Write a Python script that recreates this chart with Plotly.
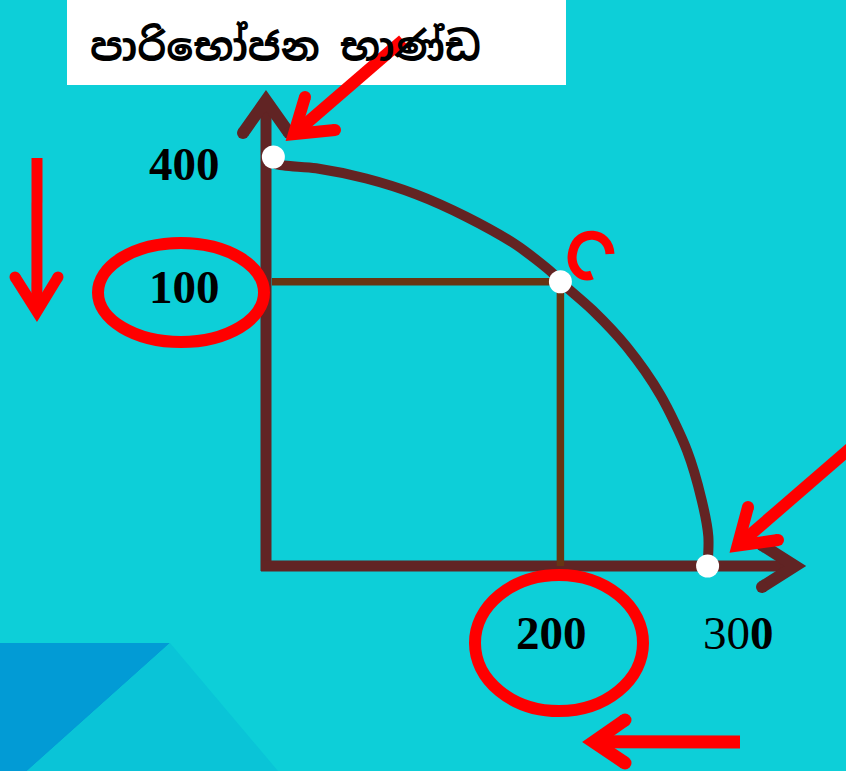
import math

import plotly.graph_objects as go

W, H = 846, 771

# curve (x in goods, y in slide axis units)
curve_x = [4, 7, 34, 68, 102, 136, 170, 195, 200, 222, 245, 268, 286, 296, 300.5, 300]
curve_y = [397, 393, 389, 379, 363.5, 341.6, 314, 286, 278, 250, 214.5, 167, 113, 64.5, 29, 1]

# marked points on the curve
point_x = [5, 200, 300]
point_y = [400, 278, 0]

# tick labels written on the slide
y_tick_vals = [400, 278]
y_tick_text = ['<b>400</b>', '<b>100</b>']
x_tick_vals = [200, 300]
x_tick_text = ['<b>200</b>', '30<b>0</b>']

title_text = 'පාරිභෝජන භාණ්ඩ'

BG = '#0DCFD8'
AXIS = '#612424'
GUIDE = '#673513'
RED = '#FF0000'

# pixel origin of the chart axes and scale (px per unit)
OX, OY = 266, 566
KX, KY = 1.472, 1.0225


def pp(x, y):
    return '{:.5f},{:.5f}'.format(x / W, 1 - y / H)


def line_path(pts, width, color, layer):
    d = 'M ' + ' L '.join(pp(x, y) for x, y in pts)
    return dict(type='path', xref='paper', yref='paper', path=d,
                line=dict(color=color, width=width), layer=layer)


def dot(x, y, width, color, layer):
    r = width / 2
    return dict(type='circle', xref='paper', yref='paper',
                x0=(x - r) / W, x1=(x + r) / W,
                y0=1 - (y + r) / H, y1=1 - (y - r) / H,
                fillcolor=color, line=dict(width=0), layer=layer)


def arrow(tail, tip, a, b, shaft_w, head_w, color, layer='above'):
    # pull the vertex back so the mitred corner lands on the tip
    def unit(p, q):
        dx, dy = q[0] - p[0], q[1] - p[1]
        n = math.hypot(dx, dy)
        return dx / n, dy / n
    u1, u2 = unit(tip, a), unit(tip, b)
    bx, by = u1[0] + u2[0], u1[1] + u2[1]
    n = math.hypot(bx, by)
    bx, by = bx / n, by / n
    half = math.acos(max(-1.0, min(1.0, u1[0] * bx + u1[1] * by)))
    ext = (head_w / 2) / math.sin(half)
    v = (tip[0] + bx * ext, tip[1] + by * ext)
    return [line_path([tail, v], shaft_w, color, layer),
            line_path([a, v, b], head_w, color, layer),
            dot(a[0], a[1], head_w, color, layer),
            dot(b[0], b[1], head_w, color, layer)]


def filled(pts, color, layer='below'):
    d = 'M ' + ' L '.join(pp(x, y) for x, y in pts) + ' Z'
    return dict(type='path', xref='paper', yref='paper', path=d,
                fillcolor=color, line=dict(width=0), layer=layer)


def ring(x0, y0, x1, y1, width, color):
    return dict(type='circle', xref='paper', yref='paper',
                x0=x0 / W, x1=x1 / W, y0=1 - y1 / H, y1=1 - y0 / H,
                line=dict(color=color, width=width), layer='above')


shapes = []
# background decoration
shapes.append(filled([(0, 643), (170, 643), (27, 771), (0, 771)], '#029BD5'))
shapes.append(filled([(170, 643), (278, 771), (27, 771)], '#0AC4D7'))
shapes.append(filled([(67, 0), (566, 0), (566, 85), (67, 85)], 'white'))

# axes with arrow heads
shapes += arrow((OX, 571), (266, 87), (243, 133), (289, 133), 11, 12, AXIS, 'below')
shapes += arrow((261, OY), (810, OY), (762, 545), (762, 587), 11, 12, AXIS, 'below')

# red hand-drawn marks
shapes += arrow((403, 40), (283, 143), (305, 97), (335, 130), 12, 12, RED)
shapes += arrow((862, 438), (727, 555), (748, 507), (778, 540), 12, 12, RED)
shapes += arrow((37, 158), (37, 325), (15, 277), (58, 277), 11, 11, RED)
shapes += arrow((740, 742), (578, 742), (625, 720), (625, 763), 13, 13, RED)
shapes.append(ring(98, 243, 264, 342, 12, RED))
shapes.append(ring(475, 575, 643, 711, 12, RED))
shapes.append(dict(type='path', xref='paper', yref='paper', layer='above',
                   path='M {} C {} {} {} C {} {} {}'.format(
                       pp(610, 254), pp(609, 231), pp(578, 228), pp(573, 251),
                       pp(569, 266), pp(580, 280), pp(592, 275)),
                   line=dict(color=RED, width=9)))

fig = go.Figure()

# guide lines to point C
fig.add_trace(go.Scatter(x=[4, point_x[1], point_x[1]],
                         y=[point_y[1], point_y[1], 0],
                         mode='lines', line=dict(color=GUIDE, width=7.5),
                         hoverinfo='skip'))
fig.add_trace(go.Scatter(x=curve_x, y=curve_y, mode='lines',
                         line=dict(color='#632423', width=10, shape='spline', smoothing=0.8),
                         hoverinfo='skip'))
fig.add_trace(go.Scatter(x=point_x, y=point_y, mode='markers',
                         marker=dict(color='white', size=23, line=dict(width=0)),
                         hoverinfo='skip'))

annotations = [dict(xref='paper', yref='paper', x=88 / W, y=1 - 47 / H,
                    xanchor='left', yanchor='middle', showarrow=False,
                    text='<b>' + title_text + '</b>',
                    font=dict(family='Noto Sans Sinhala, Noto Serif Sinhala, Noto Sans, sans-serif',
                              size=40, color='black'))]
for v, t, sh in zip(y_tick_vals, y_tick_text, [-7, -5]):
    annotations.append(dict(x=0, y=v, xref='x', yref='y', text=t,
                            xanchor='right', yanchor='middle', xshift=-44, yshift=sh,
                            showarrow=False,
                            font=dict(family='Liberation Serif', size=47, color='black')))
for v, t, dx, fs in zip(x_tick_vals, x_tick_text, [-9, 31], [47, 47]):
    annotations.append(dict(x=v, y=0, xref='x', yref='y', text=t,
                            xanchor='center', yanchor='middle', xshift=dx, yshift=-67,
                            showarrow=False,
                            font=dict(family='Liberation Serif', size=fs, color='black')))

fig.update_layout(width=W, height=H, margin=dict(l=0, r=0, t=0, b=0),
                  paper_bgcolor=BG, plot_bgcolor='rgba(0,0,0,0)',
                  showlegend=False, shapes=shapes, annotations=annotations,
                  xaxis=dict(range=[-OX / KX, (W - OX) / KX], visible=False, fixedrange=True),
                  yaxis=dict(range=[(OY - H) / KY, OY / KY], visible=False, fixedrange=True))

# page margin off so the figure fills the window
fig.write_html('out.html', config={'displayModeBar': False},
               post_script="document.body.style.margin='0';document.body.style.overflow='hidden';")
